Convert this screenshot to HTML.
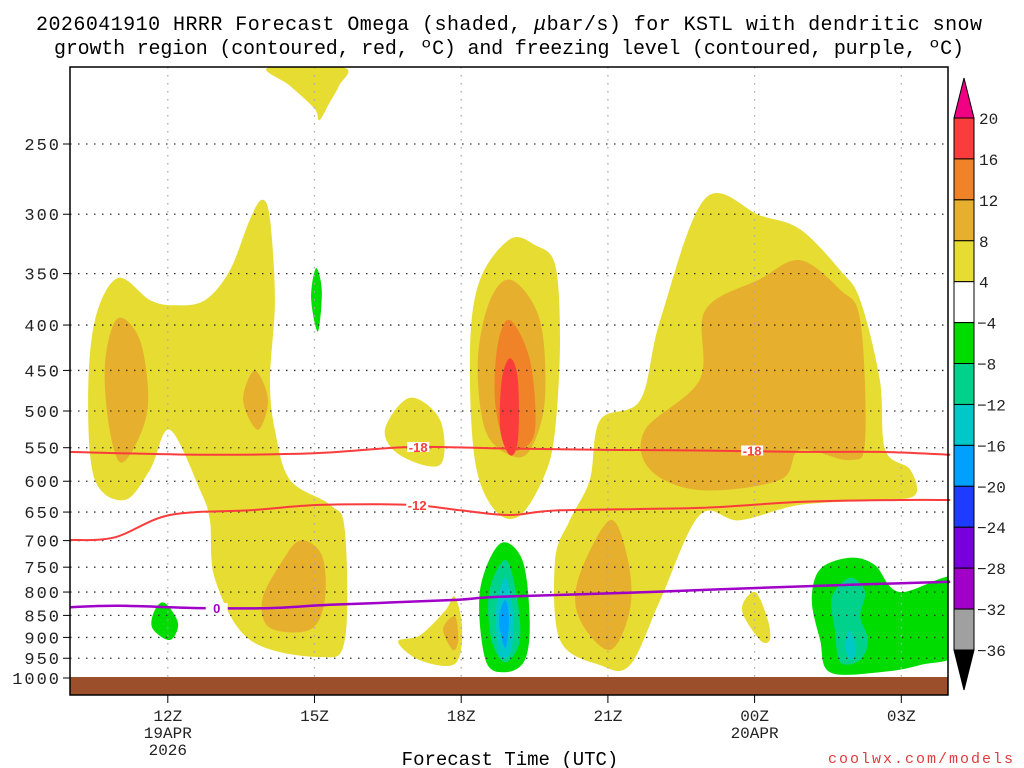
<!DOCTYPE html>
<html><head><meta charset="utf-8"><style>
body{margin:0;background:#fff;}
svg{display:block;font-family:"Liberation Mono",monospace;}
</style></head><body>
<svg id="c" width="1024" height="768" viewBox="0 0 1024 768">
<text x="509" y="30" font-size="20" text-anchor="middle" textLength="946">2026041910 HRRR Forecast Omega (shaded, <tspan font-style="italic">μ</tspan>bar/s) for KSTL with dendritic snow</text>
<text x="509" y="54" font-size="20" text-anchor="middle" textLength="910">growth region (contoured, red, ºC) and freezing level (contoured, purple, ºC)</text>
<g id="fills"></g>
<g id="grid"></g>
<g id="lines"></g>
<rect x="70" y="677" width="878" height="18" fill="#9c4f2b"/>
<rect x="70" y="67" width="878" height="628" fill="none" stroke="#000" stroke-width="1.5"/>
<g id="axes"></g>
<g id="cbar"></g>
<text x="510" y="765" font-size="19" text-anchor="middle">Forecast Time (UTC)</text>
<text x="1015" y="763" font-size="15" fill="#e03c3c" text-anchor="end" letter-spacing="2">coolwx.com/models</text>
</svg>
<script>
const NS='http://www.w3.org/2000/svg';
// axis data
const pTicks=[250,300,350,400,450,500,550,600,650,700,750,800,850,900,950,1000];
const tHours=[12,15,18,21,24,27];
const tLabels=['12Z','15Z','18Z','21Z','00Z','03Z'];
const tSub1=['19APR','','','','20APR',''];
const tSub2=['2026','','','','',''];
const cbLevels=[20,16,12,8,4,-4,-8,-12,-16,-20,-24,-28,-32,-36];
const cbColors=['#fa3c3c','#f08228','#e6af2d','#e6dc32','#ffffff','#00dc00','#00d28c','#00c8c8','#00a0ff','#1e3cff','#7800dc','#a000c8','#a0a0a0'];
// shaded regions: [hour, hPa]
const yellowA=[[13.93,289],[14.09,304],[14.19,375],[14.09,461],[14.19,525],[14.5,598],[15.32,638],[15.62,681],[15.62,906],[15.11,947],[13.68,906],[12.97,775],[12.86,664],[12.66,614],[12.04,525],[11.64,582],[11.12,630],[10.51,598],[10.37,486],[10.51,395],[10.98,354],[11.64,375],[12.15,380],[12.76,375],[13.27,347],[13.68,304]];
const yellowTop=[[14.05,205],[14.5,215],[15.0,228],[15.1,235],[15.3,225],[15.5,215],[15.6,205]];
const orangeL1=[[10.98,393],[11.43,416],[11.6,486],[11.39,539],[11.02,571],[10.78,512],[10.72,439]];
const orangeL2=[[13.78,450],[14.05,486],[13.84,525],[13.54,486]];
const orangeL3=[[14.7,700],[15.15,727],[15.21,817],[14.91,882],[14.09,878],[13.93,817],[14.29,746]];
const green15=[[15.03,345],[15.15,366],[15.07,407],[14.93,373]];
const green12=[[11.94,823],[12.21,868],[12.04,906],[11.68,878],[11.74,837]];
const yellowB1=[[16.95,483],[17.57,512],[17.57,575],[16.75,561],[16.44,525]];
const yellowB2=[[19.0,320],[19.51,325],[19.92,342],[20.02,416],[19.92,525],[19.71,590],[19.2,656],[18.69,647],[18.28,568],[18.18,427],[18.38,356]];
const orangeB=[[19.04,356],[19.61,395],[19.71,486],[19.41,553],[19.0,561],[18.49,525],[18.34,439],[18.59,375]];
const orange2B=[[19,395],[19.41,439],[19.51,525],[19.2,553],[18.9,546],[18.69,486],[18.75,420]];
const redB=[[19,436],[19.16,461],[19.16,539],[19,561],[18.8,525],[18.83,461]];
const yellowB3=[[17.87,810],[18.02,883],[17.87,964],[17.16,955],[16.71,910],[17.16,895],[17.67,840]];
const orangeB3=[[17.87,852],[17.94,906],[17.83,930],[17.63,881]];
const green19=[[18.79,706],[19.25,736],[19.4,860],[19.3,955],[18.9,985],[18.5,955],[18.38,800]];
const teal19=[[18.9,736],[19.12,800],[19.2,906],[18.9,960],[18.62,906],[18.57,800]];
const cyan19=[[18.9,771],[19.06,842],[19.02,930],[18.79,945],[18.71,842]];
const blue19=[[18.9,817],[18.98,860],[18.9,925],[18.77,860]];
const yellowC=[[20.02,906],[19.92,736],[20.22,664],[20.63,598],[20.84,512],[21.66,486],[22.07,395],[22.99,288],[24.11,301],[24.93,312],[25.75,347],[26.16,375],[26.56,461],[26.67,553],[27.18,582],[27.28,622],[26.56,630],[24.93,638],[23.7,664],[22.88,655],[22.07,817],[21.45,967],[20.84,967]];
const orangeC=[[22.99,385],[24.11,355],[24.93,338],[25.75,365],[26.16,395],[26.26,539],[25.95,568],[24.93,553],[24.52,598],[22.88,614],[21.86,582],[21.76,525],[22.88,461]];
const orangeC2=[[21.04,664],[21.41,736],[21.45,838],[21.04,930],[20.43,860],[20.39,775]];
const yellowC2=[[24.01,800],[24.27,860],[24.31,906],[24.11,906],[23.74,838]];
const greenR=[[25.95,732],[26.46,746],[26.97,800],[28.2,771],[28.2,930],[27.38,967],[26.56,985],[25.54,985],[25.34,906],[25.17,817],[25.34,754]];
const tealR=[[25.95,771],[26.26,800],[26.16,852],[26.32,906],[26.16,954],[25.75,960],[25.64,881],[25.58,811]];
const cyanR=[[25.95,884],[26.07,930],[25.95,954],[25.85,918]];
// contour lines
const iso18=[[10,556],[12.66,560],[15,558],[16.95,549],[18.8,551],[20.84,553],[22.88,554],[24.93,556],[26.56,556],[28,560]];
const iso12=[[10,699],[10.92,694],[12.04,655],[13.68,647],[15.11,638],[16.95,638],[17.98,647],[19,655],[20.02,647],[22.88,643],[24.93,633],[26.97,630],[28,630]];
const iso0=[[10,832],[11.02,829],[12.66,834],[14.09,834],[15.32,827],[17.77,817],[18.8,810],[21.86,800],[23.9,792],[25.95,785],[28,779]];

const X=h=>70+(h-10)*48.9;
const Y=p=>678-385.2*Math.log(1000/p);
function el(tag,attrs,parent,txt){const e=document.createElementNS(NS,tag);for(const k in attrs)e.setAttribute(k,attrs[k]);if(txt!==undefined)e.textContent=txt;parent.appendChild(e);return e;}
function smooth(pts,closed=true){const P=pts.map(d=>[X(d[0]),Y(d[1])]);const n=P.length;let s=`M${P[0][0].toFixed(1)},${P[0][1].toFixed(1)}`;
const m=closed?n:n-1;
for(let i=0;i<m;i++){const g=j=>closed?P[(j+n)%n]:P[Math.max(0,Math.min(n-1,j))];const p0=g(i-1),p1=g(i),p2=g(i+1),p3=g(i+2);
const c1=[p1[0]+(p2[0]-p0[0])/6,p1[1]+(p2[1]-p0[1])/6],c2=[p2[0]-(p3[0]-p1[0])/6,p2[1]-(p3[1]-p1[1])/6];
s+=`C${c1[0].toFixed(1)},${c1[1].toFixed(1)} ${c2[0].toFixed(1)},${c2[1].toFixed(1)} ${p2[0].toFixed(1)},${p2[1].toFixed(1)}`;}return s+(closed?'Z':'');}
const svgRoot=document.getElementById('c');
const defs=el('defs',{},svgRoot);const cp=el('clipPath',{id:'clip'},defs);el('rect',{x:70,y:67,width:878,height:628},cp);
const F=document.getElementById('fills');F.setAttribute('clip-path','url(#clip)');
const regions=[[yellowA,'#e6dc32','yellow-region-a'],[yellowTop,'#e6dc32','yellow-region-top'],[orangeL1,'#e6af2d','orange-region-12z'],[orangeL2,'#e6af2d','orange-region-14z'],[orangeL3,'#e6af2d','orange-region-14z-low'],[green15,'#00dc00','green-region-15z'],[green12,'#00dc00','green-region-12z'],
[yellowB1,'#e6dc32','yellow-region-17z'],[yellowB2,'#e6dc32','yellow-region-19z'],[orangeB,'#e6af2d','orange-region-19z'],[orange2B,'#f08228','dark-orange-region-19z'],[redB,'#fa3c3c','red-region-19z'],[yellowB3,'#e6dc32','yellow-region-18z-low'],[orangeB3,'#e6af2d','orange-region-18z-low'],
[green19,'#00dc00','green-region-19z'],[teal19,'#00d28c','teal-region-19z'],[cyan19,'#00c8c8','cyan-region-19z'],[blue19,'#00a0ff','blue-region-19z'],
[yellowC,'#e6dc32','yellow-region-00z'],[orangeC,'#e6af2d','orange-region-00z'],[orangeC2,'#e6af2d','orange-region-21z'],[yellowC2,'#e6dc32','yellow-region-00z-low'],[greenR,'#00dc00','green-region-02z'],[tealR,'#00d28c','teal-region-02z'],[cyanR,'#00c8c8','cyan-region-02z']];
regions.forEach(r=>{const e=el('path',{d:smooth(r[0]),fill:r[1]},F);

});
const G=document.getElementById('grid');
pTicks.forEach(p=>{const e=el('line',{x1:70,x2:948,y1:Y(p),y2:Y(p),stroke:'#333','stroke-width':1.3,'stroke-dasharray':'1.5 6.5'},G);

});
tHours.forEach(h=>{const e=el('line',{x1:X(h),x2:X(h),y1:67,y2:677,stroke:'#aaa','stroke-width':1.3,'stroke-dasharray':'1.5 6.5'},G);

});
const L=document.getElementById('lines');
function line(pts,col,w,name){const e=el('path',{d:smooth(pts,false),fill:'none',stroke:col,'stroke-width':w},L);

}
line(iso18,'#fa3c3c',2,'isotherm-minus18');line(iso12,'#fa3c3c',2,'isotherm-minus12');line(iso0,'#a000c8',2.5,'freezing-level-line');
function lab(h,p,t,col){const x=X(h),y=Y(p);const r=el('rect',{x:x-11,y:y-5,width:22,height:10,fill:'#fff'},L);


const e=el('text',{x:x,y:y+5,'font-size':13,'font-weight':'bold','font-family':'Liberation Sans, sans-serif',fill:col,'text-anchor':'middle'},L,t);

}
lab(17.12,549,'-18','#fa3c3c');lab(23.95,554,'-18','#fa3c3c');lab(17.1,638,'-12','#fa3c3c');lab(13,834,'0','#a000c8');
const A=document.getElementById('axes');
pTicks.forEach(p=>{const e=el('text',{x:61,y:Y(p)+6,'font-size':17,'letter-spacing':2,'text-anchor':'end',fill:'#222'},A,String(p));


const t=el('line',{x1:63,x2:70,y1:Y(p),y2:Y(p),stroke:'#000'},A);

});
tHours.forEach((h,i)=>{const x=X(h);
const t=el('line',{x1:x,x2:x,y1:695,y2:703,stroke:'#000'},A);


const e=el('text',{x:x,y:721,'font-size':16,'text-anchor':'middle',fill:'#222'},A,tLabels[i]);


if(tSub1[i]){const s=el('text',{x:x,y:738,'font-size':16,'text-anchor':'middle',fill:'#222'},A,tSub1[i]);

}
if(tSub2[i]){const s=el('text',{x:x,y:755,'font-size':16,'text-anchor':'middle',fill:'#222'},A,tSub2[i]);

}});
const C=document.getElementById('cbar');const cbX=954,cbW=20,cbTop=118,cbStep=532/13;
const tri1=el('path',{d:`M${cbX},${cbTop}L${cbX+cbW/2},78L${cbX+cbW},${cbTop}Z`,fill:'#f00082',stroke:'#000'},C);


cbColors.forEach((c,i)=>{const r=el('rect',{x:cbX,y:cbTop+i*cbStep,width:cbW,height:cbStep,fill:c,stroke:'#000'},C);

});
const cbBot=cbTop+cbColors.length*cbStep;
const tri2=el('path',{d:`M${cbX},${cbBot}L${cbX+cbW/2},${cbBot+40}L${cbX+cbW},${cbBot}Z`,fill:'#000',stroke:'#000'},C);


cbLevels.forEach((v,i)=>{const e=el('text',{x:v<0?977:979,y:cbTop+i*cbStep+6,'font-size':16,fill:'#222'},C,v<0?'\u2212'+(-v):String(v));

});
</script>
</body></html>
